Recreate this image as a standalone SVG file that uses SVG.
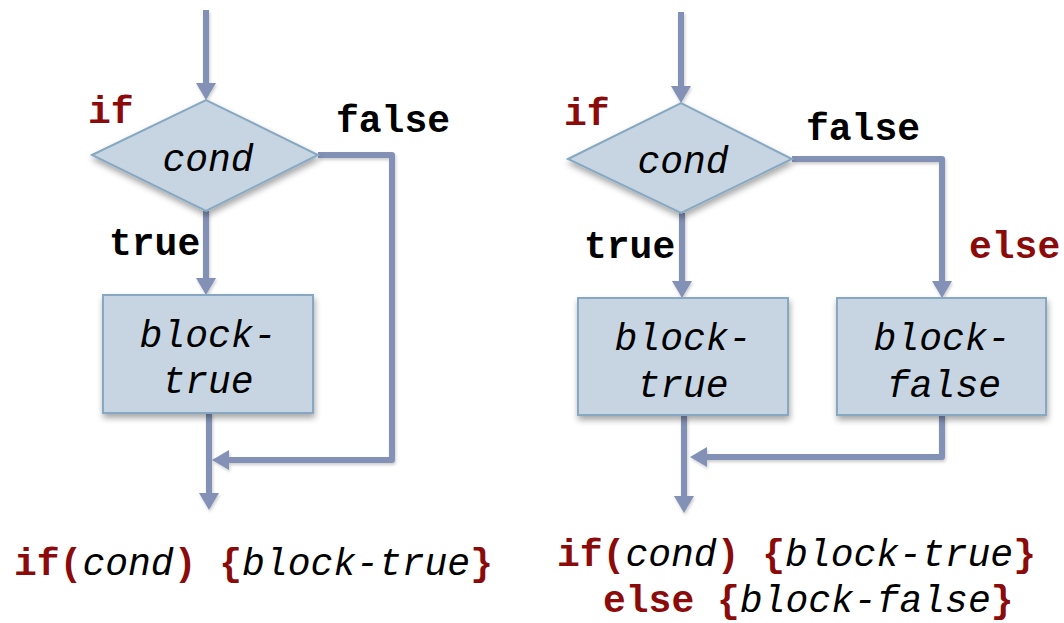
<svg xmlns="http://www.w3.org/2000/svg" width="1064" height="623" viewBox="0 0 1064 623">
  <defs>
    <style>
      .shape { fill: #c7d5e2; stroke: #86a8c2; stroke-width: 2; filter: url(#shadow); }
      .wire { fill: none; stroke: #8391b6; stroke-width: 6; stroke-linejoin: round; marker-end: url(#arrow); filter: url(#lineShadow); }
      .code { font-family: "Liberation Mono", "Courier New", monospace; font-size: 38px; }
      .kw { font-weight: bold; fill: #8b0a0a; }
      .lbl { font-weight: bold; fill: #000; }
      .it { font-style: italic; fill: #000; }
    </style>
    <filter id="shadow" x="-20%" y="-20%" width="140%" height="150%">
      <feDropShadow dx="1" dy="4" stdDeviation="3" flood-color="#000" flood-opacity="0.35"/>
    </filter>
    <!-- user-space region so straight (zero-width) paths still render -->
    <filter id="lineShadow" filterUnits="userSpaceOnUse" x="0" y="0" width="1064" height="623">
      <feDropShadow dx="1" dy="2" stdDeviation="1.5" flood-color="#000" flood-opacity="0.2"/>
    </filter>
    <marker id="arrow" viewBox="0 0 17 20" refX="9" refY="10" markerWidth="17" markerHeight="20" markerUnits="userSpaceOnUse" orient="auto">
      <path d="M0,0 L17,10 L0,20 z" fill="#8391b6"/>
    </marker>
  </defs>

  <!-- connectors -->
  <g id="connectors">
    <!-- if -->
    <path class="wire" d="M206,10 V92"/>
    <path class="wire" d="M206,211 V287"/>
    <path class="wire" d="M318,155 H392 V460 H220"/>
    <path class="wire" d="M209,413 V502"/>
    <!-- if / else -->
    <path class="wire" d="M681,12 V95"/>
    <path class="wire" d="M682,213 V290"/>
    <path class="wire" d="M792,159 H942 V290"/>
    <path class="wire" d="M942,415 V457 H698"/>
    <path class="wire" d="M684,415 V505"/>
  </g>

  <!-- if: decision -->
  <g id="if-cond">
    <polygon class="shape" points="92,155 206,100 318,155 206,211"/>
    <text class="code it" x="208" y="171" text-anchor="middle">cond</text>
  </g>

  <!-- if: body -->
  <g id="if-block-true">
    <rect class="shape" x="103" y="295" width="210" height="118"/>
    <text class="code it" x="208" y="347" text-anchor="middle">block-</text>
    <text class="code it" x="208" y="393" text-anchor="middle">true</text>
  </g>

  <g id="if-labels">
    <text class="code kw" x="88" y="123">if</text>
    <text class="code lbl" x="336" y="132">false</text>
    <text class="code lbl" x="109" y="255">true</text>
  </g>

  <!-- if / else: decision -->
  <g id="ifelse-cond">
    <polygon class="shape" points="568,159 681,103 792,159 681,213"/>
    <text class="code it" x="683" y="173" text-anchor="middle">cond</text>
  </g>

  <g id="ifelse-block-true">
    <rect class="shape" x="578" y="298" width="210" height="117"/>
    <text class="code it" x="683" y="350" text-anchor="middle">block-</text>
    <text class="code it" x="683" y="397" text-anchor="middle">true</text>
  </g>

  <g id="ifelse-block-false">
    <rect class="shape" x="837" y="298" width="209" height="117"/>
    <text class="code it" x="942" y="350" text-anchor="middle">block-</text>
    <text class="code it" x="944" y="397" text-anchor="middle">false</text>
  </g>

  <g id="ifelse-labels">
    <text class="code kw" x="564" y="125">if</text>
    <text class="code lbl" x="806" y="140">false</text>
    <text class="code lbl" x="584" y="258">true</text>
    <text class="code kw" x="969" y="258">else</text>
  </g>

  <!-- source forms -->
  <g id="code-if">
    <text class="code" x="14" y="575"><tspan class="kw">if(</tspan><tspan class="it">cond</tspan><tspan class="kw">)</tspan> <tspan class="kw">{</tspan><tspan class="it">block-true</tspan><tspan class="kw">}</tspan></text>
  </g>
  <g id="code-ifelse">
    <text class="code" x="557" y="566"><tspan class="kw">if(</tspan><tspan class="it">cond</tspan><tspan class="kw">)</tspan> <tspan class="kw">{</tspan><tspan class="it">block-true</tspan><tspan class="kw">}</tspan></text>
    <text class="code" x="603" y="612"><tspan class="kw">else</tspan> <tspan class="kw">{</tspan><tspan class="it">block-false</tspan><tspan class="kw">}</tspan></text>
  </g>
</svg>
